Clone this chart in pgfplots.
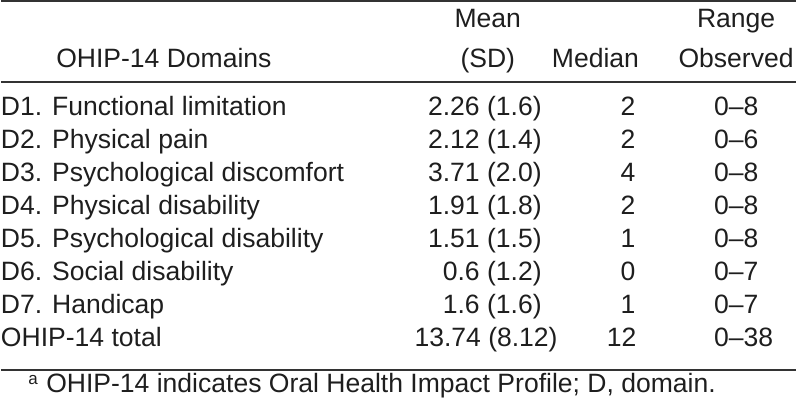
\documentclass[border=0pt]{standalone}
\usepackage{pgfplots}
\usepackage{pgfplotstable}
\pgfplotsset{compat=1.18}
\usepackage{fontspec}
\setmainfont{Liberation Sans}
\definecolor{txt}{HTML}{1E1E1E}
\definecolor{rule}{HTML}{333333}

\pgfplotstableread[col sep=comma]{
y,xname,name,xmean,mean,xmed,median,xrng,range
116,0,D1. Functional limitation,542,2.26 (1.6),636,2,715,0–8
149,0,D2. Physical pain,542,2.12 (1.4),636,2,715,0–6
182,0,D3. Psychological discomfort,542,3.71 (2.0),636,4,715,0–8
215,0,D4. Physical disability,542,1.91 (1.8),636,2,715,0–8
248,0,D5. Psychological disability,542,1.51 (1.5),636,1,715,0–8
281,0,D6. Social disability,542,0.6 (1.2),636,0,715,0–7
314,0,D7. Handicap,542,1.6 (1.6),636,1,715,0–7
347,0,OHIP-14 total,558,13.74 (8.12),637,12,715,0–38
}\rows

\begin{document}
\begin{tikzpicture}
\begin{axis}[
  hide axis,
  x=0.5pt, y=0.5pt,
  xmin=0, xmax=797, ymin=0, ymax=402,
  y dir=reverse,
  clip=false,
  every axis plot/.append style={draw=none, mark=none, nodes near coords, point meta=explicit symbolic},
  nodes near coords style={inner sep=0pt, outer sep=0pt, font=\fontsize{13.3}{16}\selectfont, text=txt},
]
\path (axis cs:0,0) rectangle (axis cs:797,402);
% rules
\draw[rule, line width=1pt] (axis cs:0,1) -- (axis cs:797,1);
\draw[rule, line width=1pt] (axis cs:0,82) -- (axis cs:797,82);
\draw[rule, line width=1pt] (axis cs:0,371) -- (axis cs:797,371);
% body
\addplot[nodes near coords style={anchor=base west}] table[x=xname, y=y, meta=name]{\rows};
\addplot[nodes near coords style={anchor=base east}] table[x=xmean, y=y, meta=mean]{\rows};
\addplot[nodes near coords style={anchor=base east}] table[x=xmed, y=y, meta=median]{\rows};
\addplot[nodes near coords style={anchor=base west}] table[x=xrng, y=y, meta=range]{\rows};
% header
\begin{scope}[every node/.style={inner sep=0pt, font=\fontsize{13.3}{16}\selectfont, text=txt}]
\node[anchor=base west] at (axis cs:55,68) {OHIP-14 Domains};
\node[anchor=base] at (axis cs:488,28) {Mean};
\node[anchor=base] at (axis cs:488,68) {(SD)};
\node[anchor=base east] at (axis cs:640,68) {Median};
\node[anchor=base] at (axis cs:737,28) {Range};
\node[anchor=base east] at (axis cs:795,68) {Observed};
\node[anchor=base west] at (axis cs:45,393) {OHIP-14 indicates Oral Health Impact Profile; D, domain.};
\node[anchor=base west, font=\fontsize{8.5}{10}\selectfont] at (axis cs:27,385) {a};
\end{scope}
\end{axis}
\end{tikzpicture}
\end{document}
